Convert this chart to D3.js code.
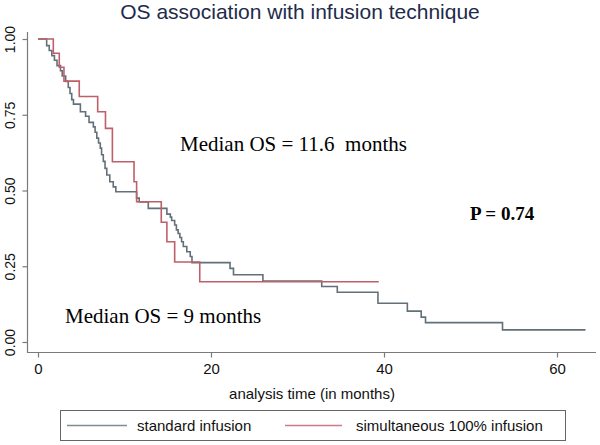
<!DOCTYPE html>
<html>
<head>
<meta charset="utf-8">
<script src="https://cdn.jsdelivr.net/npm/d3@7"></script>
<style>
  html, body { margin: 0; padding: 0; background: #fff; }
  svg { display: block; }
  text { white-space: pre; }
</style>
</head>
<body>
<svg id="chart" width="600" height="445"></svg>
<script>
// ---- Data ----
const stdTime = [0, 1.0, 1.3, 1.6, 1.9, 2.2, 2.6, 2.8, 3.2, 3.5, 3.7, 3.9, 4.1, 4.9, 5.5, 5.9, 6.4, 6.6, 6.8, 7.0, 7.2, 7.35, 7.55, 7.75, 7.95, 8.3, 8.7, 9.0, 11.4, 11.7, 12.75, 14.9, 15.3, 15.45, 15.8, 16.0, 16.2, 16.4, 16.6, 16.8, 17.2, 17.6, 17.8, 22.2, 22.6, 26.0, 32.8, 34.6, 39.3, 42.7, 44.3, 44.8, 53.7, 63.3];
const stdSurv = [1, 0.978, 0.962, 0.945, 0.93, 0.912, 0.895, 0.878, 0.86, 0.84, 0.82, 0.80, 0.785, 0.76, 0.745, 0.725, 0.71, 0.692, 0.673, 0.657, 0.640, 0.618, 0.596, 0.573, 0.551, 0.529, 0.512, 0.496, 0.475, 0.462, 0.441, 0.422, 0.412, 0.401, 0.386, 0.370, 0.358, 0.345, 0.331, 0.315, 0.298, 0.282, 0.262, 0.243, 0.222, 0.201, 0.183, 0.164, 0.128, 0.102, 0.082, 0.064, 0.040, 0.040];

const simTime = [0, 1.77, 2.46, 3.0, 4.77, 6.9, 7.8, 8.6, 11.1, 11.4, 14.25, 14.9, 15.8, 18.7, 39.4];
const simSurv = [1, 0.953, 0.907, 0.861, 0.81, 0.76, 0.705, 0.595, 0.529, 0.463, 0.395, 0.331, 0.264, 0.199, 0.199];

const xTicks = [0, 20, 40, 60];
const yTicks = [0, 0.25, 0.5, 0.75, 1];
const seriesNames = ["standard infusion", "simultaneous 100% infusion"];
const seriesColors = ["#637079", "#bf5f6a"];
const titleText = "OS association with infusion technique";
const xTitle = "analysis time (in months)";
const notes = ["Median OS = 11.6  months", "Median OS = 9 months", "P = 0.74"];

// ---- Drawing ----
const svg = d3.select("#chart");
svg.append("rect").attr("width", 600).attr("height", 445).attr("fill", "#fff");

const x = d3.scaleLinear().domain([0, 60]).range([38, 557]);
const y = d3.scaleLinear().domain([0, 1]).range([342, 39]);

const axisColor = "#7a7a7a";
const sans = "'Liberation Sans', Arial, sans-serif";
const serif = "'Liberation Serif', 'Times New Roman', serif";

// title
svg.append("text").attr("x", 300).attr("y", 19).attr("text-anchor", "middle")
  .attr("font-family", sans).attr("font-size", 21).attr("fill", "#1e2b4a").text(titleText);

// axis lines
svg.append("line").attr("x1", 27.5).attr("x2", 27.5).attr("y1", 32).attr("y2", 352.5)
  .attr("stroke", axisColor).attr("stroke-width", 1.2);
svg.append("line").attr("x1", 27).attr("x2", 596).attr("y1", 352.5).attr("y2", 352.5)
  .attr("stroke", axisColor).attr("stroke-width", 1.2);

// y axis
const yAxis = svg.append("g").attr("transform", "translate(27.5,0)")
  .call(d3.axisLeft(y).tickValues(yTicks).tickFormat(d3.format(".2f")).tickSize(5).tickPadding(0));
yAxis.select(".domain").remove();
yAxis.selectAll(".tick line").attr("stroke", axisColor).attr("stroke-width", 1.2);
yAxis.selectAll(".tick text")
  .attr("font-family", sans).attr("font-size", 14).attr("fill", "#111")
  .attr("text-anchor", "middle").attr("dy", null)
  .attr("x", null)
  .attr("transform", "translate(-12.5,0) rotate(-90)");

// x axis
const xAxis = svg.append("g").attr("transform", "translate(0,352.5)")
  .call(d3.axisBottom(x).tickValues(xTicks).tickFormat(d3.format("d")).tickSize(5).tickPadding(6));
xAxis.select(".domain").remove();
xAxis.selectAll(".tick line").attr("stroke", axisColor).attr("stroke-width", 1.2);
xAxis.selectAll(".tick text").attr("font-family", sans).attr("font-size", 15).attr("fill", "#111");

svg.append("text").attr("x", 312).attr("y", 399).attr("text-anchor", "middle")
  .attr("font-family", sans).attr("font-size", 15).attr("fill", "#111").text(xTitle);

// curves
const line = d3.line().x(d => x(d[0])).y(d => y(d[1])).curve(d3.curveStepAfter);
const stdPts = stdTime.map((t, i) => [t, stdSurv[i]]);
const simPts = simTime.map((t, i) => [t, simSurv[i]]);
svg.append("path").datum(stdPts).attr("d", line).attr("fill", "none")
  .attr("stroke", seriesColors[0]).attr("stroke-width", 1.6);
svg.append("path").datum(simPts).attr("d", line).attr("fill", "none")
  .attr("stroke", seriesColors[1]).attr("stroke-width", 1.6);

// annotations
svg.append("text").attr("x", 180).attr("y", 151).attr("font-family", serif).attr("font-size", 21)
  .attr("fill", "#000").text(notes[0]);
svg.append("text").attr("x", 65).attr("y", 323).attr("font-family", serif).attr("font-size", 21)
  .attr("fill", "#000").text(notes[1]);
svg.append("text").attr("x", 470).attr("y", 220).attr("font-family", serif).attr("font-size", 19)
  .attr("font-weight", "bold").attr("fill", "#000").text(notes[2]);

// legend
const lg = svg.append("g");
lg.append("rect").attr("x", 60.5).attr("y", 410.5).attr("width", 505).attr("height", 30)
  .attr("fill", "#fff").attr("stroke", "#666").attr("stroke-width", 1);
const legendItems = [
  { lx1: 67, lx2: 127, tx: 137 },
  { lx1: 285, lx2: 342, tx: 356 }
];
legendItems.forEach((it, i) => {
  lg.append("line").attr("x1", it.lx1).attr("x2", it.lx2).attr("y1", 425.5).attr("y2", 425.5)
    .attr("stroke", seriesColors[i]).attr("stroke-width", 1.6).attr("opacity", 0.8);
  lg.append("text").attr("x", it.tx).attr("y", 431).attr("font-family", sans).attr("font-size", 15)
    .attr("fill", "#111").text(seriesNames[i]);
});
</script>
</body>
</html>
